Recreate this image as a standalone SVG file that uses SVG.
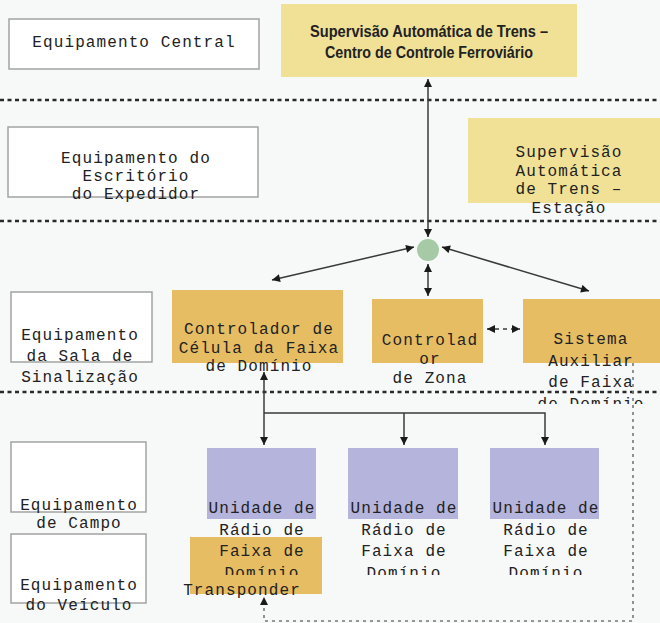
<svg xmlns="http://www.w3.org/2000/svg" width="660" height="623" viewBox="0 0 660 623">
<defs>
<style>
.lbl{fill:#fff;stroke:#a3a3a3;stroke-width:1.5}
.mono{font-family:"Liberation Mono","DejaVu Sans Mono",monospace;font-size:16px;letter-spacing:1.1px;fill:#222;text-anchor:middle}
.yel{fill:#f0e196}
.org{fill:#e6bd62}
.pur{fill:#b4b4dd}
.sep{stroke:#2a2a2a;stroke-width:2.5;stroke-dasharray:4 3.5}
.ln{stroke:#3a3a3a;stroke-width:1.5;fill:none}
</style>
<marker id="ah" viewBox="0 0 10 10" refX="10" refY="5" markerWidth="9" markerHeight="8" markerUnits="userSpaceOnUse" orient="auto-start-reverse">
<path d="M0,0 L10,5 L0,10 z" fill="#1a1a1a"/>
</marker>
<clipPath id="clipSis"><rect x="500" y="290" width="160" height="114"/></clipPath>
<clipPath id="clipPur"><rect x="180" y="440" width="440" height="135"/></clipPath>
<clipPath id="clipYel"><rect x="460" y="110" width="200" height="107"/></clipPath>
</defs>
<rect x="0" y="0" width="660" height="623" fill="#f7f9f9"/>

<g id="separators">
<line class="sep" x1="0" y1="100" x2="660" y2="100"/>
<line class="sep" x1="0" y1="221" x2="660" y2="221"/>
<line class="sep" x1="0" y1="392" x2="660" y2="392"/>
</g>

<g id="lbl-central">
<rect class="lbl" x="9" y="19" width="250" height="50"/>
<text class="mono" x="134" y="47">Equipamento Central</text>
</g>
<g id="lbl-escritorio">
<rect class="lbl" x="8" y="127" width="250" height="70"/>
<text class="mono" x="136" y="163">Equipamento do</text>
<text class="mono" x="136" y="181">Escritório</text>
<text class="mono" x="136" y="199">do Expedidor</text>
</g>
<g id="lbl-sala">
<rect class="lbl" x="11" y="292" width="141" height="70"/>
<text class="mono" x="80" y="340">Equipamento</text>
<text class="mono" x="80" y="361">da Sala de</text>
<text class="mono" x="80" y="382">Sinalização</text>
</g>
<g id="lbl-campo">
<rect class="lbl" x="11" y="442" width="135" height="70"/>
<text class="mono" x="79" y="510">Equipamento</text>
<text class="mono" x="79" y="528">de Campo</text>
</g>
<g id="lbl-veiculo">
<rect class="lbl" x="11" y="534" width="135" height="69"/>
<text class="mono" x="79" y="590">Equipamento</text>
<text class="mono" x="79" y="610">do Veículo</text>
</g>

<g id="ats-central">
<rect class="yel" x="281" y="4" width="296" height="73"/>
<text x="429" y="37" font-family="'Liberation Sans',Arial,sans-serif" font-weight="bold" font-size="16" fill="#222" text-anchor="middle" textLength="238" lengthAdjust="spacingAndGlyphs">Supervisão Automática de Trens –</text>
<text x="429" y="58" font-family="'Liberation Sans',Arial,sans-serif" font-weight="bold" font-size="16" fill="#222" text-anchor="middle" textLength="208" lengthAdjust="spacingAndGlyphs">Centro de Controle Ferroviário</text>
</g>

<g id="ats-estacao">
<rect class="yel" x="468" y="118" width="192" height="85"/>
<g clip-path="url(#clipYel)">
<text class="mono" x="569" y="157">Supervisão</text>
<text class="mono" x="569" y="176">Automática</text>
<text class="mono" x="569" y="194">de Trens –</text>
<text class="mono" x="569" y="213">Estação</text>
</g>
</g>

<g id="hub">
<circle cx="428" cy="250" r="11" fill="#a6c9a6"/>
</g>

<g id="ctrl-celula">
<rect class="org" x="172" y="290" width="171" height="73"/>
<text class="mono" x="259" y="334">Controlador de</text>
<text class="mono" x="259" y="353">Célula da Faixa</text>
<text class="mono" x="259" y="371">de Domínio</text>
</g>

<g id="ctrl-zona">
<rect class="org" x="372" y="299" width="111" height="64"/>
<text class="mono" x="430" y="345">Controlad</text>
<text class="mono" x="430" y="364">or</text>
<text class="mono" x="430" y="383">de Zona</text>
</g>

<g id="sistema-aux">
<rect class="org" x="523" y="299" width="137" height="64"/>
<g clip-path="url(#clipSis)">
<text class="mono" x="591" y="344">Sistema</text>
<text class="mono" x="591" y="366">Auxiliar</text>
<text class="mono" x="591" y="387">de Faixa</text>
<text class="mono" x="591" y="409">de Domínio</text>
</g>
</g>

<g id="transponder">
<rect class="org" x="190" y="537" width="132" height="57"/>
<text class="mono" x="242" y="595">Transponder</text>
</g>

<g id="radio-1">
<rect class="pur" x="207" y="448" width="109" height="71"/>
<g clip-path="url(#clipPur)">
<text class="mono" x="262" y="513">Unidade de</text>
<text class="mono" x="262" y="535">Rádio de</text>
<text class="mono" x="262" y="556">Faixa de</text>
<text class="mono" x="262" y="578">Domínio</text>
</g>
</g>
<g id="radio-2">
<rect class="pur" x="348" y="448" width="110" height="71"/>
<g clip-path="url(#clipPur)">
<text class="mono" x="404" y="513">Unidade de</text>
<text class="mono" x="404" y="535">Rádio de</text>
<text class="mono" x="404" y="556">Faixa de</text>
<text class="mono" x="404" y="578">Domínio</text>
</g>
</g>
<g id="radio-3">
<rect class="pur" x="490" y="448" width="109" height="71"/>
<g clip-path="url(#clipPur)">
<text class="mono" x="546" y="513">Unidade de</text>
<text class="mono" x="546" y="535">Rádio de</text>
<text class="mono" x="546" y="556">Faixa de</text>
<text class="mono" x="546" y="578">Domínio</text>
</g>
</g>

<g id="connectors">
<line class="ln" x1="428" y1="79" x2="428" y2="237" marker-start="url(#ah)" marker-end="url(#ah)"/>
<line class="ln" x1="428" y1="264" x2="428" y2="296" marker-start="url(#ah)" marker-end="url(#ah)"/>
<line class="ln" x1="414" y1="247" x2="272" y2="280" marker-start="url(#ah)" marker-end="url(#ah)"/>
<line class="ln" x1="442" y1="247" x2="589" y2="291" marker-start="url(#ah)" marker-end="url(#ah)"/>
<line class="ln" x1="487" y1="329" x2="520" y2="329" stroke-dasharray="4 4" marker-start="url(#ah)" marker-end="url(#ah)"/>
<line class="ln" x1="264" y1="372" x2="264" y2="445" marker-start="url(#ah)" marker-end="url(#ah)"/>
<path class="ln" d="M264,413 H545 V445" marker-end="url(#ah)"/>
<path class="ln" d="M404,413 V445" marker-end="url(#ah)"/>
<path d="M633,363 V621 H264 V597" fill="none" stroke="#777" stroke-width="1.6" stroke-dasharray="3 4" marker-end="url(#ah)"/>
</g>
</svg>
